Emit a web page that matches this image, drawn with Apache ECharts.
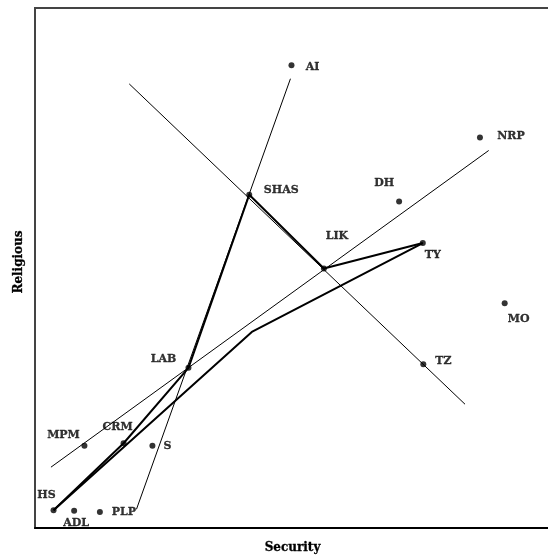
<!DOCTYPE html>
<html>
<head>
<meta charset="utf-8">
<script src="https://cdn.jsdelivr.net/npm/echarts@6/dist/echarts.min.js"></script>
<style>html,body{margin:0;padding:0;background:#fff}#c{width:548px;height:560px}</style>
</head>
<body>
<div id="c"></div>
<script>
// Party positions (Security on x, Religious on y), 0..100 scale
var parties = ['AI','NRP','SHAS','DH','TY','LIK','MO','TZ','LAB','MPM','CRM','S','HS','ADL','PLP'];
var security = [49.8, 86.4, 41.6, 70.7, 75.3, 56.1, 91.2, 75.4, 29.8, 9.6, 17.2, 22.8, 3.6, 7.6, 12.6];
var religious = [89.0, 75.1, 64.1, 62.8, 54.8, 49.9, 43.2, 31.5, 30.8, 15.8, 16.3, 15.8, 3.4, 3.3, 3.1];

// Thin cutting lines (end points)
var line1X = [18.3, 83.5], line1Y = [85.4, 23.8];
var line2X = [49.6, 19.7], line2Y = [86.4, 3.6];
var line3X = [3.1, 88.1],  line3Y = [11.7, 72.6];

// Thick paths
var pathAX = [3.6, 17.2, 29.8, 41.6, 56.1, 75.3];
var pathAY = [3.4, 16.3, 30.8, 64.1, 49.9, 54.8];
var pathBX = [75.3, 42.1, 3.6];
var pathBY = [54.8, 37.7, 3.4];

// label placement (text centre relative to point, px)
var labelOffset = {
  AI:[21,2], NRP:[31,-1], SHAS:[32,-5], DH:[-15,-18], TY:[10,12], LIK:[13,-32],
  MO:[14,16], TZ:[20,-3], LAB:[-25,-9], MPM:[-21,-11], CRM:[-6,-16], S:[15,0],
  HS:[-7,-15], ADL:[2,12], PLP:[24,0]
};

function zip(xs, ys){ return xs.map(function(x,i){ return [x, ys[i]]; }); }

var font = 'DejaVu Serif';
var chart = echarts.init(document.getElementById('c'), null, {renderer:'canvas'});

function thin(xs, ys){
  return {type:'line', data:zip(xs,ys), symbol:'none', silent:true,
    lineStyle:{color:'#000', width:1}, z:2};
}
function thick(xs, ys){
  return {type:'line', data:zip(xs,ys), symbol:'none', silent:true,
    lineStyle:{color:'#000', width:2}, z:3};
}

chart.setOption({
  animation:false,
  backgroundColor:'#fff',
  grid:{left:35, right:-2, top:8, bottom:32, containLabel:false, outerBoundsMode:'none',
    show:true, borderColor:'#444', borderWidth:2, backgroundColor:'transparent'},
  xAxis:{type:'value', min:0, max:100, name:'Security', nameLocation:'middle', nameGap:14,
    nameTextStyle:{fontFamily:font, fontWeight:'bold', fontSize:12, color:'#000',
      textBorderColor:'#000', textBorderWidth:0.3},
    axisLine:{show:true, onZero:false, lineStyle:{color:'#000', width:2}},
    axisTick:{show:false}, axisLabel:{show:false}, splitLine:{show:false}},
  yAxis:{type:'value', min:0, max:100, name:'Religious', nameLocation:'middle', nameGap:10,
    nameTextStyle:{fontFamily:font, fontWeight:'bold', fontSize:12, color:'#000', padding:[0,0,0,12],
      textBorderColor:'#000', textBorderWidth:0.3},
    axisLine:{show:true, onZero:false, lineStyle:{color:'#444', width:2}},
    axisTick:{show:false}, axisLabel:{show:false}, splitLine:{show:false}},
  series:[
    thin(line1X, line1Y), thin(line2X, line2Y), thin(line3X, line3Y),
    thick(pathAX, pathAY), thick(pathBX, pathBY),
    {type:'scatter', symbol:'circle', symbolSize:6, z:5,
      itemStyle:{color:'#000'},
      data: parties.map(function(p,i){
        return {name:p, value:[security[i], religious[i]],
          label:{show:true, formatter:p, position:'inside', offset:labelOffset[p],
            align:'center', verticalAlign:'middle', textBorderColor:'#000', textBorderWidth:0.3,
            fontFamily:font, fontWeight:'bold', fontSize:11, color:'#000'}};
      })
    }
  ]
});
</script>
</body>
</html>
